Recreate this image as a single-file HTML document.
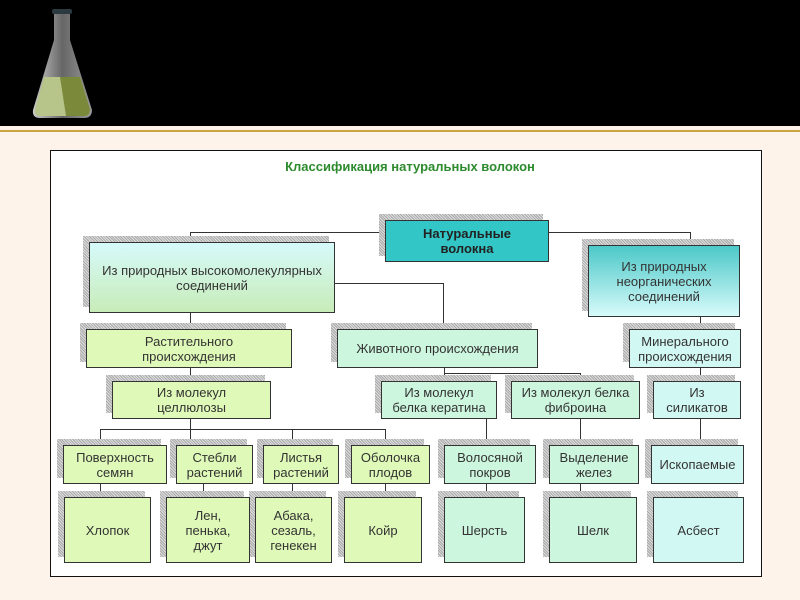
<!DOCTYPE html>
<html><head><meta charset="utf-8"><style>
*{margin:0;padding:0;box-sizing:border-box}
body{width:800px;height:600px;position:relative;overflow:hidden;background:#fdf3ea;font-family:"Liberation Sans",sans-serif}
#hdr{position:absolute;left:0;top:0;width:800px;height:126px;background:#000}
#gold{position:absolute;left:0;top:130px;width:800px;height:2px;background:#c9a640}
#frame{position:absolute;left:50px;top:150px;width:712px;height:427px;background:#fff;border:1px solid #111}
.t{position:absolute;left:200px;top:159px;width:420px;text-align:center;font-weight:bold;color:#2d8a2d;font-size:13px}
.b{position:absolute;border:1px solid #333;display:flex;align-items:center;justify-content:center;text-align:center;font-size:13px;line-height:15px;color:#333}
.s{position:absolute;background:repeating-linear-gradient(45deg,#aaa 0 1px,#ddd 1px 2px)}
.g{background:#dff9b8}.m{background:#cdf6df}.c{background:#d2f8f4}
.l{position:absolute;background:#333}
</style></head><body>
<div id="hdr"></div>
<svg style="position:absolute;left:30px;top:5px" width="70" height="115">
<defs><linearGradient id="fl" x1="0" x2="1"><stop offset="0" stop-color="#ccc"/><stop offset="0.5" stop-color="#666"/><stop offset="1" stop-color="#999"/></linearGradient></defs>
<rect x="22" y="4" width="20" height="5" rx="2" fill="#2a3a40"/>
<path d="M24 9 L40 9 L40 35 L62 105 Q62 113 54 113 L10 113 Q2 113 3 105 L24 35 Z" fill="url(#fl)"/>
<path d="M14 72 L50 72 L60 104 Q60 111 54 111 L10 111 Q4 111 5 104 Z" fill="#b7c48a"/>
<path d="M30 72 L50 72 L60 104 Q60 111 54 111 L36 111 Z" fill="#7a8a3a"/>
</svg>
<div id="gold"></div>
<div id="frame"></div>
<div class="t">Классификация натуральных волокон</div>

<div class="l" style="left:190px;top:232px;width:196px;height:1px"></div>
<div class="l" style="left:190px;top:232px;width:1px;height:10px"></div>
<div class="l" style="left:548px;top:232px;width:142px;height:1px"></div>
<div class="l" style="left:690px;top:232px;width:1px;height:13px"></div>
<div class="l" style="left:335px;top:283px;width:108px;height:1px"></div>
<div class="l" style="left:443px;top:283px;width:1px;height:46px"></div>
<div class="l" style="left:190px;top:313px;width:1px;height:68px"></div>
<div class="l" style="left:700px;top:317px;width:1px;height:128px"></div>
<div class="l" style="left:444px;top:368px;width:1px;height:13px"></div>
<div class="l" style="left:444px;top:373px;width:136px;height:1px"></div>
<div class="l" style="left:580px;top:373px;width:1px;height:124px"></div>
<div class="l" style="left:486px;top:419px;width:1px;height:78px"></div>
<div class="l" style="left:190px;top:419px;width:1px;height:26px"></div>
<div class="l" style="left:100px;top:429px;width:286px;height:1px"></div>
<div class="l" style="left:100px;top:429px;width:1px;height:68px"></div>
<div class="l" style="left:203px;top:484px;width:1px;height:13px"></div>
<div class="l" style="left:292px;top:429px;width:1px;height:68px"></div>
<div class="l" style="left:385px;top:429px;width:1px;height:68px"></div>

<div class="s" style="left:379px;top:214px;width:164px;height:42px"></div>
<div class="s" style="left:83px;top:236px;width:246px;height:71px"></div>
<div class="s" style="left:582px;top:239px;width:152px;height:72px"></div>
<div class="s" style="left:80px;top:323px;width:206px;height:39px"></div>
<div class="s" style="left:331px;top:323px;width:201px;height:39px"></div>
<div class="s" style="left:623px;top:323px;width:112px;height:39px"></div>
<div class="s" style="left:106px;top:375px;width:159px;height:38px"></div>
<div class="s" style="left:375px;top:375px;width:116px;height:38px"></div>
<div class="s" style="left:505px;top:375px;width:129px;height:38px"></div>
<div class="s" style="left:647px;top:375px;width:88px;height:38px"></div>
<div class="s" style="left:57px;top:439px;width:104px;height:39px"></div>
<div class="s" style="left:170px;top:439px;width:77px;height:39px"></div>
<div class="s" style="left:257px;top:439px;width:76px;height:39px"></div>
<div class="s" style="left:345px;top:439px;width:79px;height:39px"></div>
<div class="s" style="left:438px;top:439px;width:92px;height:39px"></div>
<div class="s" style="left:543px;top:439px;width:90px;height:39px"></div>
<div class="s" style="left:645px;top:439px;width:93px;height:39px"></div>
<div class="s" style="left:58px;top:491px;width:87px;height:66px"></div>
<div class="s" style="left:160px;top:491px;width:84px;height:66px"></div>
<div class="s" style="left:249px;top:491px;width:77px;height:66px"></div>
<div class="s" style="left:338px;top:491px;width:78px;height:66px"></div>
<div class="s" style="left:438px;top:491px;width:81px;height:66px"></div>
<div class="s" style="left:543px;top:491px;width:88px;height:66px"></div>
<div class="s" style="left:647px;top:491px;width:91px;height:66px"></div>

<div class="b" style="left:385px;top:220px;width:164px;height:42px;background:#33c6c6;font-weight:bold;color:#222">Натуральные<br>волокна</div>
<div class="b" style="left:89px;top:242px;width:246px;height:71px;background:linear-gradient(#d6fafa,#c8ecb8)">Из природных высокомолекулярных<br>соединений</div>
<div class="b" style="left:588px;top:245px;width:152px;height:72px;background:linear-gradient(#4cc8c8,#d8fafa)">Из природных<br>неорганических<br>соединений</div>
<div class="b g" style="left:86px;top:329px;width:206px;height:39px">Растительного<br>происхождения</div>
<div class="b m" style="left:337px;top:329px;width:201px;height:39px">Животного происхождения</div>
<div class="b c" style="left:629px;top:329px;width:112px;height:39px">Минерального<br>происхождения</div>
<div class="b g" style="left:112px;top:381px;width:159px;height:38px">Из молекул<br>целлюлозы</div>
<div class="b m" style="left:381px;top:381px;width:116px;height:38px">Из молекул<br>белка кератина</div>
<div class="b m" style="left:511px;top:381px;width:129px;height:38px">Из молекул белка<br>фиброина</div>
<div class="b c" style="left:653px;top:381px;width:88px;height:38px">Из<br>силикатов</div>
<div class="b g" style="left:63px;top:445px;width:104px;height:39px">Поверхность<br>семян</div>
<div class="b g" style="left:176px;top:445px;width:77px;height:39px">Стебли<br>растений</div>
<div class="b g" style="left:263px;top:445px;width:76px;height:39px">Листья<br>растений</div>
<div class="b g" style="left:351px;top:445px;width:79px;height:39px">Оболочка<br>плодов</div>
<div class="b m" style="left:444px;top:445px;width:92px;height:39px">Волосяной<br>покров</div>
<div class="b m" style="left:549px;top:445px;width:90px;height:39px">Выделение<br>желез</div>
<div class="b c" style="left:651px;top:445px;width:93px;height:39px">Ископаемые</div>
<div class="b g" style="left:64px;top:497px;width:87px;height:66px">Хлопок</div>
<div class="b g" style="left:166px;top:497px;width:84px;height:66px">Лен,<br>пенька,<br>джут</div>
<div class="b g" style="left:255px;top:497px;width:77px;height:66px">Абака,<br>сезаль,<br>генекен</div>
<div class="b g" style="left:344px;top:497px;width:78px;height:66px">Койр</div>
<div class="b m" style="left:444px;top:497px;width:81px;height:66px">Шерсть</div>
<div class="b m" style="left:549px;top:497px;width:88px;height:66px">Шелк</div>
<div class="b c" style="left:653px;top:497px;width:91px;height:66px">Асбест</div>
</body></html>
